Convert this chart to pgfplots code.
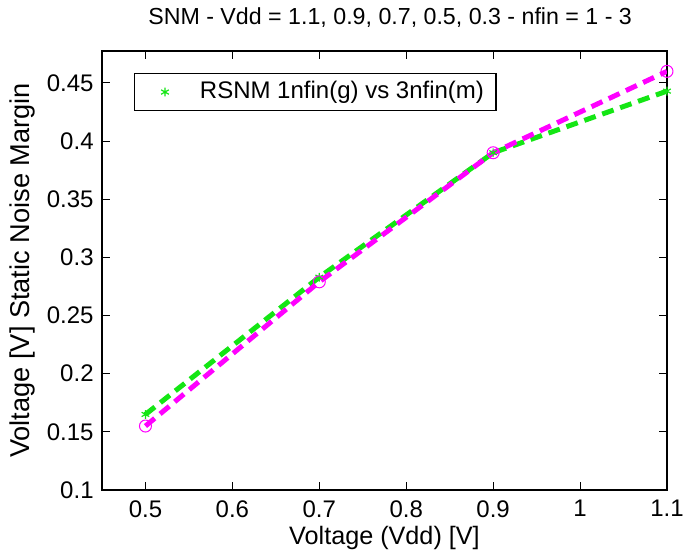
\documentclass[border=0pt]{standalone}
\usepackage{pgfplots}
\pgfplotsset{compat=1.18}
\usepackage{fontspec}
\setmainfont{Liberation Sans}
\definecolor{mgreen}{RGB}{20,230,20}
\definecolor{mmag}{RGB}{255,0,255}
\begin{document}
\fontsize{12}{14}\selectfont
\begin{tikzpicture}
\path[use as bounding box] (-51pt,-33pt) rectangle (291.5pt,245pt);
\begin{axis}[
  scale only axis,
  width=282.5pt, height=219.5pt,
  xmin=0.45, xmax=1.1, ymin=0.1, ymax=0.4775,
  xtick={0.5,0.6,0.7,0.8,0.9,1,1.1},
  xticklabels={0.5,0.6,0.7,0.8,0.9,1,1.1},
  ytick={0.1,0.15,0.2,0.25,0.3,0.35,0.4,0.45},
  yticklabels={0.1,0.15,0.2,0.25,0.3,0.35,0.4,0.45},
  tick align=inside,
  major tick length=4pt,
  tick style={black, line width=0.5pt},
  axis line style={black, line width=0.6pt},
  ticklabel style={font=\fontsize{12}{14}\selectfont},
  xticklabel style={yshift=-1pt},
  title={SNM - Vdd = 1.1, 0.9, 0.7, 0.5, 0.3 - nfin = 1 - 3},
  title style={at={(axis description cs:0.51,1)}, anchor=center, yshift=10.5pt, font=\fontsize{11.6}{14}\selectfont},
  xlabel={Voltage (Vdd) [V]},
  ylabel={Voltage [V] Static Noise Margin},
  xlabel style={at={(axis description cs:0.5,0)}, anchor=center, yshift=-24pt, font=\fontsize{12.6}{14}\selectfont},
  ylabel style={at={(axis description cs:0,0.5)}, anchor=center, font=\fontsize{13.6}{16}\selectfont},
  every axis y label/.append style={yshift=40pt},
  legend style={at={(axis description cs:0.0566,0.95)}, anchor=north west,
    draw=black, line width=0.6pt, inner xsep=4pt, inner ysep=2pt,
    font=\fontsize{12}{14}\selectfont, cells={anchor=west}},
  legend cell align=left,
]
\addplot[mgreen, line width=2.5pt, dash pattern=on 6pt off 3.5pt,
  mark=asterisk, mark size=2.2pt, mark options={solid, line width=0.6pt},
  legend image code/.code={\draw[mgreen, line width=0.6pt] plot[mark=asterisk, mark size=2.2pt] coordinates {(0.35cm,0cm)}; \path (0cm,0cm) (0.85cm,0cm);}]
  coordinates {(0.5,0.165) (0.7,0.283) (0.9,0.390) (1.1,0.443)};
\addlegendentry{RSNM 1nfin(g) vs 3nfin(m)\hspace{3pt}}
\addplot[mmag, line width=2.5pt, dash pattern=on 6pt off 3.5pt,
  mark=o, mark size=3pt, mark options={solid, line width=0.5pt}, forget plot]
  coordinates {(0.5,0.155) (0.7,0.279) (0.9,0.390) (1.1,0.460)};
\end{axis}
\end{tikzpicture}
\end{document}
